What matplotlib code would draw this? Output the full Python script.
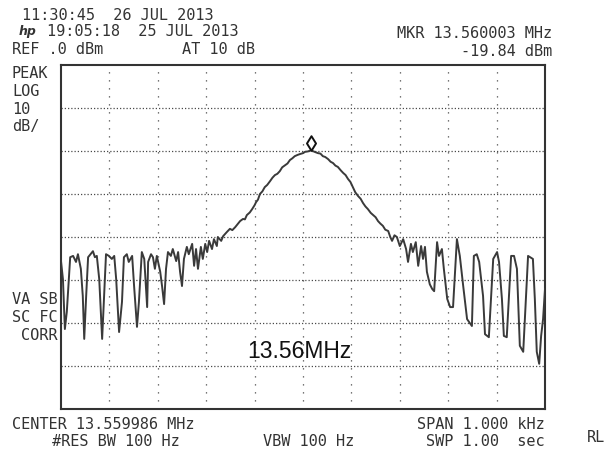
import matplotlib
matplotlib.use('Agg')
import matplotlib.pyplot as plt
from matplotlib.path import Path
from matplotlib.transforms import offset_copy

# sweep readout: offset from centre (Hz) and level (dBm)
freq_hz = [
    -500, -496, -492, -488, -481, -475, -469, -465, -459, -455, -452, -448,
    -444, -434, -430, -426, -421, -415, -411, -407, -401, -395, -390, -386,
    -380, -374, -370, -364, -360, -353, -349, -343, -339, -333, -328, -322,
    -320, -314, -310, -306, -302, -295, -291, -287, -283, -279, -273, -269,
    -262, -258, -254, -250, -246, -240, -236, -229, -225, -221, -217, -211,
    -207, -202, -198, -194, -188, -184, -178, -176, -169, -165, -157, -151,
    -146, -140, -135, -130, -124, -120, -116, -110, -105, -100, -97, -93,
    -89, -84, -79, -74, -68, -63, -58, -53, -48, -43, -37, -32, -27, -22,
    -17, -11, -6, 0, 4, 10, 17, 24, 31, 36, 41, 46, 52, 57, 62, 67, 72, 78,
    83, 88, 93, 98, 103, 108, 114, 119, 124, 129, 134, 140, 145, 150, 155,
    160, 165, 170, 176, 180,
    184, 189, 194, 200, 207, 213, 217, 223, 227, 233, 238, 244, 248, 252,
    256, 262, 267, 271, 277, 281, 287, 291, 298, 304, 310, 318, 324, 331,
    339, 349, 353, 359, 364, 372, 376, 384, 393, 401, 405, 411, 415, 421,
    430, 436, 442, 448, 455, 465, 475, 479, 483, 488, 492, 496, 500,
]
level_dbm = [
    -45.6, -49.8, -61.4, -57.4, -44.7, -44.4, -45.8, -44.0, -47.4, -53.7, -63.7, -53.7,
    -44.7, -43.3, -44.7, -44.4, -49.8, -63.7, -53.7, -44.0, -44.4, -45.1, -44.4, -49.8,
    -62.1, -55.1, -44.7, -44.0, -45.8, -44.4, -51.4, -60.9, -55.1, -43.5, -45.1, -56.3,
    -45.8, -44.0, -44.7, -47.4, -44.4, -48.1, -51.6, -55.6, -47.4, -43.5, -44.4, -42.8,
    -45.6, -43.5, -48.1, -51.4, -45.1, -42.3, -44.0, -41.6, -46.7, -42.8, -47.4, -42.3,
    -45.1, -41.6, -43.5, -40.9, -42.8, -40.5, -42.1, -40.0, -40.9, -39.8, -38.8, -38.1,
    -38.4, -37.7, -37.0, -36.3, -35.8, -35.9, -34.9, -34.3, -33.5, -32.6, -31.9, -31.3,
    -30.0, -29.4, -28.4, -27.9, -27.0, -26.2, -25.6, -25.3, -24.7, -23.8, -23.3, -22.9,
    -22.1, -21.7, -21.2, -20.9, -20.7, -20.5, -20.2, -20.1, -19.84, -20.2, -20.5, -20.6,
    -21.2, -21.4, -21.9, -22.5, -22.8, -23.4, -23.7, -24.5, -25.1, -25.6, -26.5, -27.2,
    -28.4, -29.6, -30.5, -31.1, -32.1, -32.9, -33.5, -34.4, -34.9, -35.4, -36.3, -36.9,
    -37.4, -38.3, -38.6, -39.9,
    -40.9, -39.6, -40.0, -42.1, -40.5, -42.8, -45.8, -41.6, -43.5, -41.2, -46.7, -42.1,
    -45.1, -42.3, -48.1, -51.0, -52.1, -52.6, -41.2, -44.4, -42.8, -47.4, -54.4, -56.3,
    -56.3, -40.5, -44.4, -51.4, -59.1, -60.7, -44.4, -44.0, -45.8, -53.7, -62.6, -63.3,
    -45.1, -43.5, -45.8, -54.4, -63.0, -63.3, -44.4, -44.4, -47.4, -65.3, -66.7, -44.4,
    -45.1, -54.4, -66.7, -69.5, -63.0, -59.1, -52.1,
]

ref_level = 0.0
db_per_div = 10
n_ydiv = 8
span_hz = 1000
n_xdiv = 10
mkr_hz = 17
mkr_dbm = -19.84

ink = '#333333'
mono = 'DejaVu Sans Mono'

W, H = 613, 452
fig = plt.figure(figsize=(W / 100, H / 100), dpi=100)
fig.patch.set_facecolor('white')

ax = fig.add_axes([61 / W, 1 - 410 / H, 484 / W, 344 / H])
ax.set_xlim(-span_hz / 2, span_hz / 2)
ax.set_ylim(ref_level - n_ydiv * db_per_div, ref_level)
ax.set_xticks([])
ax.set_yticks([])
for sp in ax.spines.values():
    sp.set_color(ink)
    sp.set_linewidth(1.5)

# graticule: fine dots across, sparse dots down
for k in range(1, n_ydiv):
    ax.axhline(ref_level - k * db_per_div, color='#4a4a4a', lw=0.9,
               linestyle=(0, (1, 1.6)), zorder=1)
for k in range(1, n_xdiv):
    ax.axvline(-span_hz / 2 + k * span_hz / n_xdiv, color='#4a4a4a', lw=0.9,
               linestyle=(0, (1, 5.4)), zorder=1)

ax.plot(freq_hz, level_dbm, color='#3a3a3a', lw=1.4, zorder=3)

# marker diamond sitting just above the peak
diamond = Path([(0, 1), (0.62, 0), (0, -1), (-0.62, 0), (0, 1)],
               [Path.MOVETO, Path.LINETO, Path.LINETO, Path.LINETO, Path.CLOSEPOLY])
mtrans = offset_copy(ax.transData, fig=fig, x=0, y=5.5, units='points')
ax.plot([mkr_hz], [mkr_dbm], marker=diamond, ms=10.5, mfc='white',
        mec='#111111', mew=1.4, transform=mtrans, zorder=4)


def put(x, y, s, ha='left', **kw):
    kw.setdefault('family', mono)
    kw.setdefault('fontsize', 11)
    kw.setdefault('color', ink)
    fig.text(x / W, 1 - y / H, s, ha=ha, va='center', **kw)


put(22, 15, '11:30:45  26 JUL 2013')
put(19, 32, 'hp', family='DejaVu Sans', style='italic', weight='bold', fontsize=9)
put(47, 32, '19:05:18  25 JUL 2013')
put(12, 50, 'REF .0 dBm')
put(182, 50, 'AT 10 dB')
put(552, 33, 'MKR 13.560003 MHz', ha='right')
put(552, 51, '-19.84 dBm', ha='right')

put(12, 73, 'PEAK')
put(12, 91, 'LOG')
put(12, 109, '10')
put(12, 127, 'dB/')

put(58, 300, 'VA SB', ha='right')
put(58, 318, 'SC FC', ha='right')
put(58, 336, 'CORR', ha='right')

put(12, 425, 'CENTER 13.559986 MHz')
put(545, 425, 'SPAN 1.000 kHz', ha='right')
put(52, 442, '#RES BW 100 Hz')
put(263, 442, 'VBW 100 Hz')
put(545, 442, 'SWP 1.00  sec', ha='right')
put(587, 438, 'RL')

put(247, 351, '13.56MHz', family='Liberation Sans', fontsize=16.5, color='#111111')

fig.savefig('out.png', dpi=100, facecolor='white')
